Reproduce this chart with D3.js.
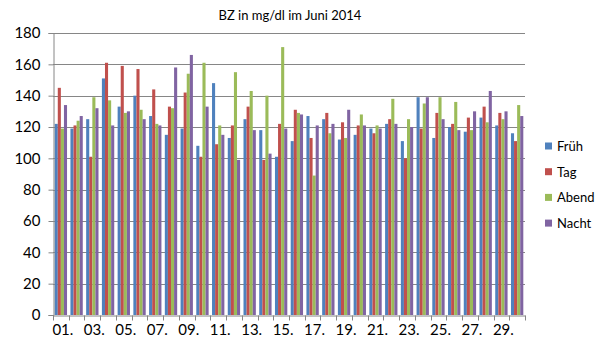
<!DOCTYPE html>
<html><head><meta charset="utf-8">
<script src="https://cdn.jsdelivr.net/npm/d3@7"></script>
<style>body{margin:0;background:#fff}text{font-family:Lato,"Open Sans",sans-serif}</style>
</head><body>
<svg id="c" width="606" height="346"></svg>
<script>
const days = d3.range(1,31).map(d => String(d).padStart(2,"0") + ".");
const seriesNames = ["Früh","Tag","Abend","Nacht"];
const colors = ["#4F81BD","#C0504D","#9BBB59","#8064A2"];
const frueh = [122,119,125,151,133,140,127,115,119,108,148,113,125,118,101,111,127,125,112,115,119,122,111,139,113,120,117,126,121,116];
const tag   = [145,121,101,161,159,157,144,133,142,101,109,121,133,99,122,131,113,129,123,121,116,125,100,119,129,122,126,133,129,111];
const abend = [119,124,139,137,129,131,122,132,154,161,121,155,143,140,171,129,89,116,113,128,121,138,125,135,139,136,118,123,125,134];
const nacht = [134,127,132,121,130,125,121,158,166,133,115,99,118,103,119,128,121,122,131,121,119,122,120,139,125,118,130,143,130,127];
const yTicks = [0,20,40,60,80,100,120,140,160,180];
const values = [frueh, tag, abend, nacht];

const svg = d3.select("#c");
const L = 53, R = 525, T = 33, B = 315;
const x = d3.scaleBand().domain(days).range([L, R]).paddingInner(0).paddingOuter(0);
const xs = d3.scaleBand().domain(seriesNames).range([0, x.bandwidth()]).paddingInner(0.0).paddingOuter(0.55);
const y = d3.scaleLinear().domain([0,180]).range([B, T]);

// gridlines
svg.append("g").selectAll("line").data(yTicks.filter(v=>v>0)).join("line")
  .attr("x1", L).attr("x2", R).attr("y1", d=>Math.round(y(d))+0.5).attr("y2", d=>Math.round(y(d))+0.5)
  .attr("stroke", "#868686").attr("stroke-width", 1);

// bars
const g = svg.append("g");
seriesNames.forEach((s, i) => {
  g.append("g").selectAll("rect").data(values[i]).join("rect")
    .attr("x", (d, j) => x(days[j]) + xs(s))
    .attr("width", xs.bandwidth())
    .attr("y", d => y(d))
    .attr("height", d => B - y(d))
    .attr("fill", colors[i]);
});

// y axis
const yAxis = d3.axisLeft(y).tickValues(yTicks).tickSize(5).tickPadding(8);
const ya = svg.append("g").attr("transform", `translate(${L+0.5},0)`).call(yAxis);
ya.select(".domain").attr("stroke", "#868686");
ya.selectAll(".tick line").attr("stroke", "#868686");
ya.selectAll(".tick text").attr("font-size", 15).attr("fill", "#000").attr("font-family", "Lato,'Open Sans',sans-serif");

// x axis
const xa = svg.append("g").attr("transform", `translate(0,${B+0.5})`)
  .call(d3.axisBottom(x).tickValues([]).tickSizeOuter(0));
xa.select(".domain").attr("stroke", "#868686");
xa.append("g").selectAll("line").data(d3.range(0, 31)).join("line")
  .attr("x1", i => Math.round(L + i * x.step()) + 0.5).attr("x2", i => Math.round(L + i * x.step()) + 0.5)
  .attr("y1", 0).attr("y2", 5).attr("stroke", "#868686");
xa.append("g").selectAll("text").data(days.filter((d, i) => i % 2 === 0)).join("text")
  .attr("x", d => x(d) + x.bandwidth()/2 + 2).attr("y", 19)
  .attr("text-anchor", "middle").attr("font-size", 15).attr("fill", "#000").text(d => d);

// title
svg.append("text").attr("x", 290).attr("y", 20).attr("text-anchor", "middle")
  .attr("font-size", 13).attr("fill", "#000").text("BZ in mg/dl im Juni 2014");

// legend
const lg = svg.append("g").selectAll("g").data(seriesNames).join("g")
  .attr("transform", (d, i) => `translate(545,${146 + i*25.7})`);
lg.append("rect").attr("x", 0).attr("y", -3.5).attr("width", 7).attr("height", 7).attr("fill", (d, i) => colors[i]);
lg.append("text").attr("x", 12).attr("y", 5).attr("font-size", 13).attr("fill", "#000").text(d => d);
</script>
</body></html>
